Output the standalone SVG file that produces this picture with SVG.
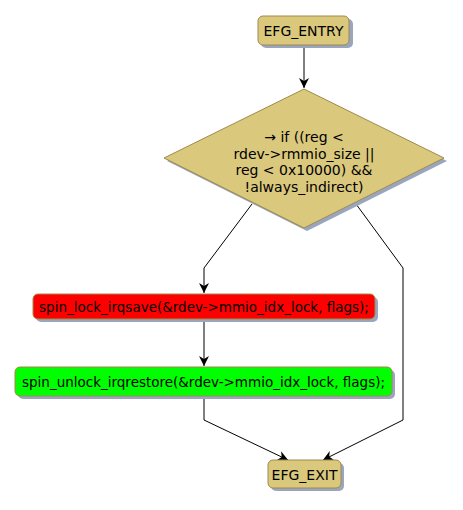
<svg xmlns="http://www.w3.org/2000/svg" width="463" height="510" viewBox="0 0 463 510">
<defs>
<marker id="ah" viewBox="0 0 10 10" refX="10" refY="5" markerWidth="10" markerHeight="10" markerUnits="userSpaceOnUse" orient="auto">
<path d="M0,0 L10,5 L0,10 L3,5 Z" fill="#000"/>
</marker>
</defs>
<style>
text{font-family:"DejaVu Sans",sans-serif;font-size:14px;fill:#000;text-anchor:middle}
.b{font-size:13.5px}
.sh{fill:#9aa6c0}
.tan{fill:#dac87d;stroke:#a08a4a;stroke-width:1}
.e{fill:none;stroke:#000;stroke-width:1}
</style>
<g id="connectors">
<path class="e" d="M304,45 L304,88" marker-end="url(#ah)"/>
<path class="e" d="M252,204 L204,268 L204,293" marker-end="url(#ah)"/>
<path class="e" d="M356,204 L403,268 L403,420 L323,460" marker-end="url(#ah)"/>
<path class="e" d="M204,319 L204,366" marker-end="url(#ah)"/>
<path class="e" d="M204,397 L204,420 L288,460" marker-end="url(#ah)"/>
</g>
<g id="entry">
<rect class="sh" x="261" y="19" width="92" height="29" rx="5"/>
<rect class="tan" x="258" y="16" width="91" height="29" rx="5"/>
<text x="303.5" y="36">EFG_ENTRY</text>
</g>
<g id="decision">
<polygon class="sh" points="307,92 447,161 307,231 167,161"/>
<polygon class="tan" points="304,89 444,158 304,228 164,158"/>
<text x="304" y="142">→ if ((reg &lt;</text>
<text x="304" y="158.5">rdev-&gt;rmmio_size ||</text>
<text x="304" y="175">reg &lt; 0x10000) &amp;&amp;</text>
<text x="304" y="191.5">!always_indirect)</text>
</g>
<g id="lock">
<rect class="sh" x="36" y="297" width="342" height="25" rx="5"/>
<rect x="33" y="294" width="342" height="25" rx="5" fill="#ff0000" stroke="#a08a4a"/>
<text class="b" x="204" y="311.5">spin_lock_irqsave(&amp;rdev-&gt;mmio_idx_lock, flags);</text>
</g>
<g id="unlock">
<rect class="sh" x="18" y="370" width="377" height="29" rx="5"/>
<rect x="15" y="367" width="377" height="29" rx="5" fill="#00ff00" stroke="#a08a4a"/>
<text class="b" x="203.5" y="386.5">spin_unlock_irqrestore(&amp;rdev-&gt;mmio_idx_lock, flags);</text>
</g>
<g id="exit">
<rect class="sh" x="271" y="463" width="73" height="28" rx="5"/>
<rect class="tan" x="268" y="460" width="73" height="28" rx="5"/>
<text x="304.5" y="479.5">EFG_EXIT</text>
</g>
</svg>
